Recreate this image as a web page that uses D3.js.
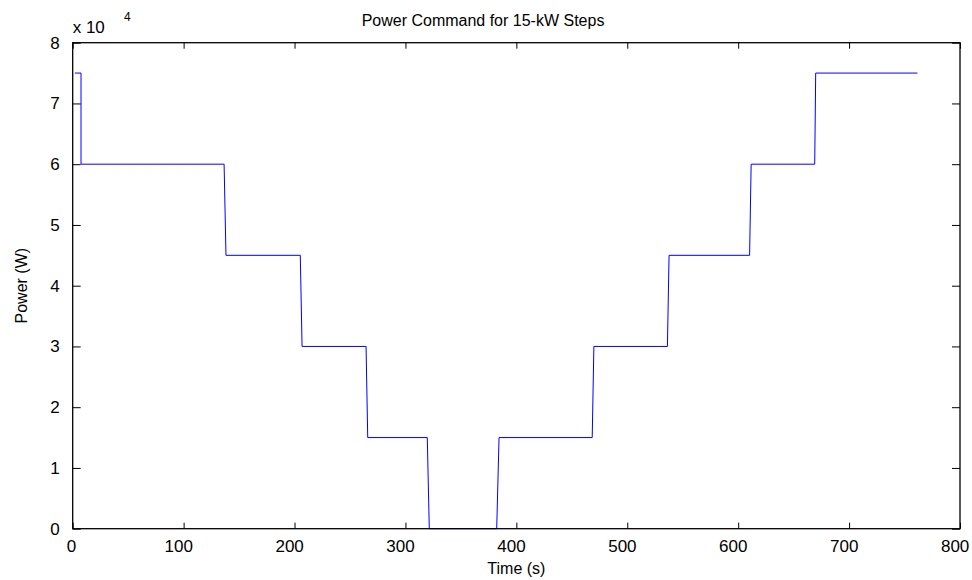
<!DOCTYPE html>
<html>
<head>
<meta charset="utf-8">
<script src="https://cdn.jsdelivr.net/npm/d3@7"></script>
<style>
  body { margin: 0; background: #fff; }
  svg { display: block; }
  text { font-family: "Liberation Sans", Arial, Helvetica, sans-serif; fill: #000; }
</style>
</head>
<body>
<svg id="chart" width="972" height="580"></svg>
<script>
// Data: step-change power command (time in s, power in W)
const timeS = [2, 7.5, 7.5, 136.5, 138.2, 205.2, 206.8, 264.5, 266, 319.7, 321.5, 382.3, 384.4, 468.4, 469.9, 536.2, 537.7, 610.3, 611.7, 669, 669.9, 761.6];
const powerW = [75000, 75000, 60000, 60000, 45000, 45000, 30000, 30000, 15000, 15000, 0, 0, 15000, 15000, 30000, 30000, 45000, 45000, 60000, 60000, 75000, 75000];
const xTicks = [0, 100, 200, 300, 400, 500, 600, 700, 800];
const yTicks = [0, 10000, 20000, 30000, 40000, 50000, 60000, 70000, 80000];
const titleText = "Power Command for 15-kW Steps";
const xLabel = "Time (s)";
const yLabel = "Power (W)";

const svg = d3.select("#chart");
const L = 72.7, R = 960, T = 42.7, B = 528.7;

const x = d3.scaleLinear().domain([0, 800]).range([L, R]);
const y = d3.scaleLinear().domain([0, 80000]).range([B, T]);

const data = timeS.map((t, i) => ({ t, p: powerW[i] }));

// data line
svg.append("path")
  .datum(data)
  .attr("fill", "none")
  .attr("stroke", "#0000ff")
  .attr("stroke-width", 1)
  .attr("d", d3.line().x(d => x(d.t)).y(d => y(d.p)));

// axes
const fmtY = d => d3.format("d")(d / 10000);
const xAxisB = d3.axisBottom(x).tickValues(xTicks).tickSizeInner(-6).tickSizeOuter(0).tickPadding(11);
const xAxisT = d3.axisTop(x).tickValues(xTicks).tickSizeInner(-6).tickSizeOuter(0).tickFormat("");
const yAxisL = d3.axisLeft(y).tickValues(yTicks).tickSizeInner(-8).tickSizeOuter(0).tickPadding(13).tickFormat(fmtY);
const yAxisR = d3.axisRight(y).tickValues(yTicks).tickSizeInner(-8).tickSizeOuter(0).tickFormat("");

function style(g) {
  g.selectAll(".domain").remove();
  g.selectAll(".tick line").attr("stroke", "#000").attr("stroke-width", 1);
  g.selectAll(".tick text").attr("font-size", 17).attr("fill", "#000")
    .attr("font-family", "Liberation Sans, Arial, sans-serif");
}
const gx = svg.append("g").attr("transform", `translate(0,${B})`).call(xAxisB).call(style);
gx.selectAll(".tick text").attr("dx", function () { return -1.8 * this.textContent.length; });
svg.append("g").attr("transform", `translate(0,${T})`).call(xAxisT).call(style);
svg.append("g").attr("transform", `translate(${L},0)`).call(yAxisL).call(style);
svg.append("g").attr("transform", `translate(${R},0)`).call(yAxisR).call(style);

// box
svg.append("rect")
  .attr("x", L).attr("y", T).attr("width", R - L).attr("height", B - T)
  .attr("fill", "none").attr("stroke", "#000").attr("stroke-width", 1.3);

// exponent label
svg.append("text").attr("x", L).attr("y", 33).attr("font-size", 17).text("x 10");
svg.append("text").attr("x", 124).attr("y", 21).attr("font-size", 12).text("4");

// title
svg.append("text").attr("x", 483).attr("y", 26).attr("text-anchor", "middle")
  .attr("font-size", 16).text(titleText);

// axis labels
svg.append("text").attr("x", (L + R) / 2).attr("y", 574).attr("text-anchor", "middle")
  .attr("font-size", 16).text(xLabel);
svg.append("text").attr("transform", `translate(27,${(T + B) / 2}) rotate(-90)`)
  .attr("text-anchor", "middle").attr("font-size", 16).text(yLabel);
</script>
</body>
</html>
